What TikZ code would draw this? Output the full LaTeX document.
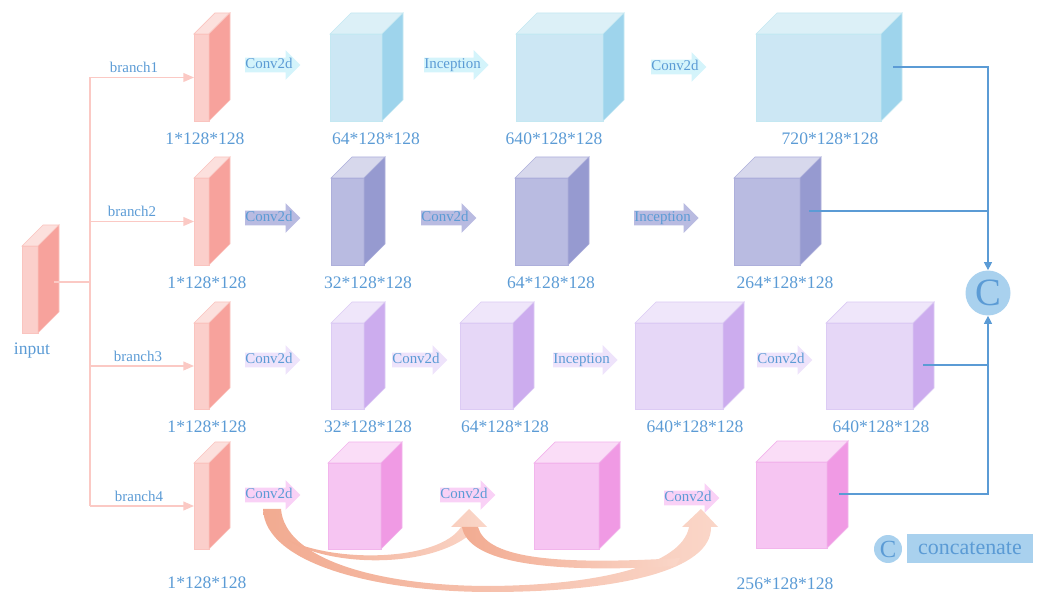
\documentclass[tikz,border=0pt]{standalone}
\usepackage{fontspec}
\setmainfont{Liberation Serif}
\usetikzlibrary{shapes.arrows,arrows.meta}

\definecolor{txt}{HTML}{5B9BD5}
\definecolor{lin}{HTML}{5B9BD5}
\definecolor{cfill}{HTML}{A9D1EE}
\definecolor{brc}{HTML}{FBC9C4}
\definecolor{skipD}{HTML}{F2AB91}
\definecolor{skipL}{HTML}{FAD6C8}
% faces: T top, F front, S side, E edge
\definecolor{redT}{HTML}{FCE0DD}
\definecolor{redF}{HTML}{FBCFCB}
\definecolor{redS}{HTML}{F7A29C}
\definecolor{redE}{HTML}{FAC4BF}
\definecolor{bluT}{HTML}{DCF0F7}
\definecolor{bluF}{HTML}{CCE7F4}
\definecolor{bluS}{HTML}{9ED4EC}
\definecolor{bluE}{HTML}{C4E8F2}
\definecolor{purT}{HTML}{D7D8EC}
\definecolor{purF}{HTML}{B9BBE1}
\definecolor{purS}{HTML}{969AD0}
\definecolor{purE}{HTML}{ADAFDB}
\definecolor{lavT}{HTML}{EFE6FA}
\definecolor{lavF}{HTML}{E6D7F7}
\definecolor{lavS}{HTML}{CCACEE}
\definecolor{lavE}{HTML}{DCCBF4}
\definecolor{magT}{HTML}{FADDF7}
\definecolor{magF}{HTML}{F6C5F2}
\definecolor{magS}{HTML}{F09AE4}
\definecolor{magE}{HTML}{F2B5EC}
% operation arrows
\definecolor{arw1}{HTML}{D4F4FB}
\definecolor{arw2}{HTML}{B9BBE1}
\definecolor{arw3}{HTML}{EEE3FB}
\definecolor{arw4}{HTML}{F9D1F6}

\begin{document}
\begin{tikzpicture}[x=0.02cm,y=-0.02cm,
  op/.style={single arrow, anchor=west, inner xsep=0pt, inner ysep=0pt, outer sep=0pt,
    text height=6.3pt, text depth=1.8pt, single arrow head extend=0.15cm,
    text=txt, font=\fontsize{8.5}{10}\selectfont},
  dim/.style={text=txt, font=\fontsize{10}{12}\selectfont},
  brtxt/.style={text=txt, font=\fontsize{8.5}{10}\selectfont},
  brline/.style={draw=brc, line width=0.7pt},
  outline/.style={draw=lin, line width=0.6pt}]
\useasboundingbox (0,0) rectangle (1042,594);

% Cuboid: name, left x, top y, width, height, colour family
\def\cuboid#1#2#3#4#5#6{%
  \node[inner sep=0, outer sep=0, anchor=north west, minimum width=#4*0.02cm,
    minimum height=#5*0.02cm, fill=#6F, draw=#6E] (#1) at (#2,#3) {};
  \filldraw[fill=#6T, draw=#6E] (#1.north west) -- ++(21,-21) -- ++(#4,0) -- (#1.north east) -- cycle;
  \filldraw[fill=#6S, draw=#6E] (#1.north east) -- ++(21,-21) -- ++(0,#5) -- (#1.south east) -- cycle;}

% input
\cuboid{inp}{22}{246}{16}{87}{red}
\node[dim] (linp) at (32,351) {input};

% branch 1
\cuboid{s1}{194}{34}{15}{87}{red}
\cuboid{c12}{330}{34}{52}{87}{blu}
\cuboid{c13}{516}{34}{87}{87}{blu}
\cuboid{c14}{756}{34}{125}{87}{blu}
\node[op, fill=arw1] (a12) at (245,65) {Conv2d};
\node[op, fill=arw1] (a13) at (424,65) {Inception};
\node[op, fill=arw1] (a14) at (651,67) {Conv2d};
\node[dim] (l11) at (205,139) {1*128*128};
\node[dim] (l12) at (376,139) {64*128*128};
\node[dim] (l13) at (554,139) {640*128*128};
\node[dim] (l14) at (830,139) {720*128*128};

% branch 2
\cuboid{s2}{194}{178}{15}{87}{red}
\cuboid{c22}{331}{178}{33}{87}{pur}
\cuboid{c23}{515}{178}{53}{87}{pur}
\cuboid{c24}{734}{178}{66}{87}{pur}
\node[op, fill=arw2] (a22) at (245,218) {Conv2d};
\node[op, fill=arw2] (a23) at (421,218) {Conv2d};
\node[op, fill=arw2] (a24) at (634,218) {Inception};
\node[dim] (l21) at (207,283) {1*128*128};
\node[dim] (l22) at (368,283) {32*128*128};
\node[dim] (l23) at (551,283) {64*128*128};
\node[dim] (l24) at (785,283) {264*128*128};

% branch 3
\cuboid{s3}{194}{323}{15}{86}{red}
\cuboid{c32}{331}{323}{33}{86}{lav}
\cuboid{c33}{460}{323}{53}{86}{lav}
\cuboid{c34}{635}{323}{88}{86}{lav}
\cuboid{c35}{826}{323}{87}{86}{lav}
\node[op, fill=arw3] (a32) at (245,360) {Conv2d};
\node[op, fill=arw3] (a33) at (392,360) {Conv2d};
\node[op, fill=arw3] (a34) at (553,360) {Inception};
\node[op, fill=arw3] (a35) at (757,360) {Conv2d};
\node[dim] (l31) at (207,427) {1*128*128};
\node[dim] (l32) at (368,427) {32*128*128};
\node[dim] (l33) at (505,427) {64*128*128};
\node[dim] (l34) at (695,427) {640*128*128};
\node[dim] (l35) at (881,427) {640*128*128};

% branch 4
\cuboid{s4}{194}{463}{15}{86}{red}
\cuboid{c42}{328}{463}{53}{86}{mag}
\cuboid{c43}{534}{463}{65}{86}{mag}
\cuboid{c44}{756}{462}{71}{86}{mag}
\node[op, fill=arw4] (a42) at (245,495) {Conv2d};
\node[op, fill=arw4] (a43) at (440,495) {Conv2d};
\node[op, fill=arw4] (a44) at (664,498) {Conv2d};
\node[dim] (l41) at (207,583) {1*128*128};
\node[dim] (l44) at (785,584) {256*128*128};

% skip connections of branch 4
\shade[left color=skipD, right color=skipL] (263,509) .. controls (265,565) and (380,592) .. (490,592)
  .. controls (620,592) and (712,570) .. (711,527) -- (718,527) -- (701,509) -- (682,527) -- (689,527)
  .. controls (682,565) and (600,585) .. (490,586) .. controls (380,586) and (285,560) .. (281,509) -- cycle;
\shade[left color=skipD, right color=skipL] (288,540) .. controls (330,568) and (440,570) .. (478,527)
  -- (487,527) -- (469,509) -- (451,527) -- (461,527) .. controls (440,560) and (340,564) .. (288,540) -- cycle;
\shade[left color=skipD, right color=skipL] (462,527) .. controls (468,562) and (545,574) .. (676,566)
  -- (680,558) .. controls (545,566) and (486,556) .. (478,527) -- cycle;

% branches from the input
\coordinate (i0) at (54,282);
\coordinate (tr) at (90,282);
\coordinate (t1) at (90,77.5);
\coordinate (t2) at (90,221.5);
\coordinate (t3) at (90,366);
\coordinate (t4) at (90,506);
\draw[brline] (i0) -- (tr);
\draw[brline] (t1) -- (t4);
\draw[brline,-{Triangle[length=6pt,width=5pt]}] (t1) -- (s1.west);
\draw[brline,-{Triangle[length=6pt,width=5pt]}] (t2) -- (s2.west);
\draw[brline,-{Triangle[length=6pt,width=5pt]}] (t3) -- (s3.west);
\draw[brline,-{Triangle[length=6pt,width=5pt]}] (t4) -- (s4.west);
\node[brtxt] (b1) at (134,67) {branch1};
\node[brtxt] (b2) at (132,211) {branch2};
\node[brtxt] (b3) at (138,356) {branch3};
\node[brtxt] (b4) at (139,496) {branch4};

% concatenation
\node[circle, fill=cfill, minimum size=0.9cm, inner sep=0, text=txt, font=\fontsize{22}{22}\selectfont] (cat) at (988,293) {C};
\coordinate (o1) at (893,67);
\coordinate (j1) at (988,67);
\coordinate (o2) at (809,211);
\coordinate (o3) at (923,365);
\coordinate (o4) at (839,494);
\coordinate (j4) at (988,494);
\draw[outline,-{Triangle[length=4.5pt,width=4.5pt]}] (o1) -- (j1) -- (cat);
\draw[outline] (o2) -- (o2 -| cat);
\draw[outline] (o3) -- (o3 -| cat);
\draw[outline,-{Triangle[length=4.5pt,width=4.5pt]}] (o4) -- (j4) -- (cat);

% legend
\node[circle, fill=cfill, minimum size=0.56cm, inner sep=0, text=txt, font=\fontsize{14}{14}\selectfont] (lgc) at (888,549) {C};
\node[fill=cfill, minimum width=2.52cm, minimum height=0.58cm, inner sep=0, text=txt, font=\fontsize{12.5}{14}\selectfont] (lgt) at (970,548.5) {concatenate};
\end{tikzpicture}
\end{document}
